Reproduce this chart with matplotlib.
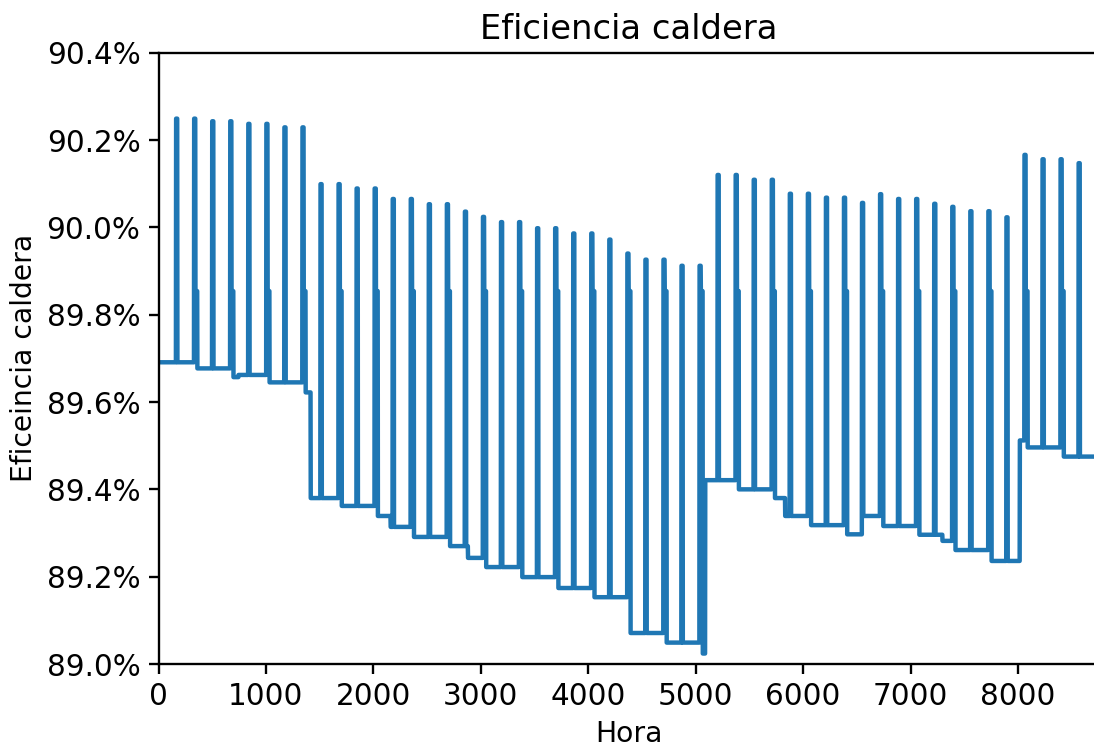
import numpy as np
import matplotlib
matplotlib.use("Agg")
import matplotlib.pyplot as plt
from matplotlib.ticker import PercentFormatter

## ---------------------------------------------------------------
## DATA
## ---------------------------------------------------------------
n_horas = 8760

# baseline level: hour where it starts, value in %
base_inicio = [0, 331, 667, 744, 1003, 1339, 1416, 1675, 2011, 2160,
               2347, 2683, 2880, 3019, 3355, 3691, 4027, 4363, 4699, 5035,
               5088, 5371, 5707, 5832, 6043, 6379, 6552, 6715, 7051, 7296,
               7387, 7723, 8016, 8059, 8395]
base_valor = [89.691, 89.677, 89.657, 89.662, 89.645, 89.622, 89.380, 89.362, 89.339, 89.314,
              89.291, 89.270, 89.243, 89.222, 89.199, 89.174, 89.153, 89.071, 89.049, 89.024,
              89.421, 89.400, 89.380, 89.339, 89.318, 89.297, 89.339, 89.316, 89.296, 89.282,
              89.261, 89.236, 89.512, 89.496, 89.475]

# weekly peaks: start hour, peak value in %
pico_inicio = [163, 331, 499, 667, 835, 1003, 1171, 1339, 1507, 1675,
               1843, 2011, 2179, 2347, 2515, 2683, 2851, 3019, 3187, 3355,
               3523, 3691, 3859, 4027, 4195, 4363, 4531, 4699, 4867, 5035,
               5203, 5371, 5539, 5707, 5875, 6043, 6211, 6379, 6547, 6715,
               6883, 7051, 7219, 7387, 7555, 7723, 7891, 8059, 8227, 8395,
               8563, 8731]
pico_valor = [90.249, 90.249, 90.243, 90.243, 90.237, 90.237, 90.229, 90.229, 90.099, 90.099,
              90.089, 90.089, 90.065, 90.065, 90.053, 90.053, 90.036, 90.024, 90.012, 90.012,
              89.998, 89.998, 89.986, 89.986, 89.972, 89.940, 89.926, 89.926, 89.912, 89.912,
              90.120, 90.120, 90.109, 90.109, 90.077, 90.077, 90.068, 90.068, 90.056, 90.076,
              90.065, 90.065, 90.054, 90.047, 90.037, 90.037, 90.023, 90.166, 90.156, 90.156,
              90.147, 90.147]
# every second week there is a short shoulder after the peak
con_escalon = [0, 1] * 26
escalon_valor = 89.854

dur_pico = 12
dur_escalon = 18

## build hourly series
hora = np.arange(n_horas)
eficiencia = np.empty(n_horas)
for ini, val in zip(base_inicio, base_valor):
    eficiencia[ini:] = val
for ini, val, esc in zip(pico_inicio, pico_valor, con_escalon):
    eficiencia[ini:ini + dur_pico] = val
    if esc:
        eficiencia[ini + dur_pico:ini + dur_pico + dur_escalon] = escalon_valor

## ---------------------------------------------------------------
## PLOT
## ---------------------------------------------------------------
plt.rcParams["axes.linewidth"] = 1.05
plt.rcParams["xtick.major.width"] = 1.05
plt.rcParams["ytick.major.width"] = 1.05
plt.rcParams["xtick.major.size"] = 4.6
plt.rcParams["ytick.major.size"] = 4.6

fig = plt.figure(figsize=(1094 / 160, 749 / 160), dpi=160)
ax = fig.add_axes([158.5 / 1094, 1 - 664 / 749, (1099.7 - 158.5) / 1094, (664 - 52.7) / 749])

ax.plot(hora, eficiencia, color="#1f77b4", linewidth=2.0)

ax.set_xlim(0, n_horas)
ax.set_ylim(89.0, 90.4)
ax.set_yticks(np.arange(89.0, 90.41, 0.2))
ax.yaxis.set_major_formatter(PercentFormatter(100, decimals=1))
ax.tick_params(axis="both", which="major", labelsize=13.3)

ax.set_title("Eficiencia caldera", fontsize=15.2)
ax.set_xlabel("Hora", fontsize=12.7)
ax.set_ylabel("Eficeincia caldera", fontsize=12.7)

fig.savefig("out.png", dpi=160)
